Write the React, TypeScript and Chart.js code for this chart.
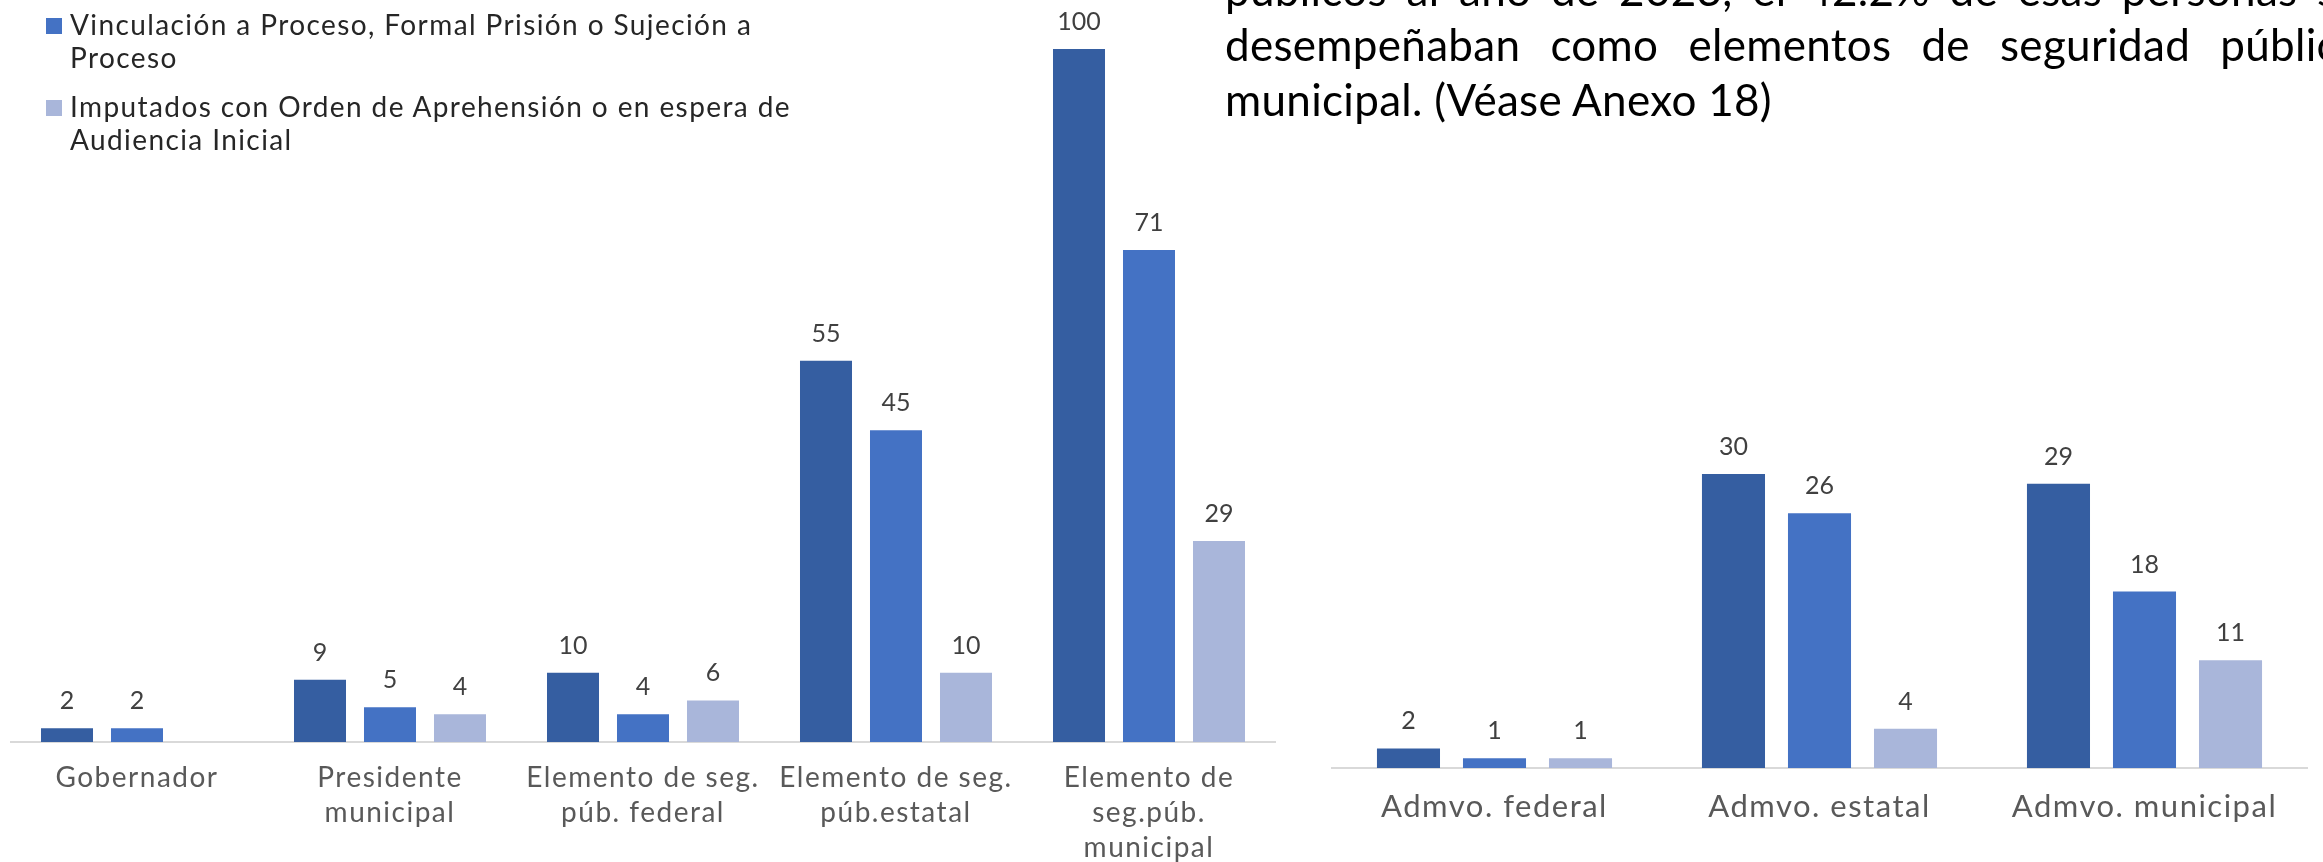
import React, { useEffect, useRef } from "react";
import { Chart, registerables } from "chart.js";

Chart.register(...registerables);

// ---------- DATA ----------
const leftCategories: (string | string[])[] = [
  "Gobernador",
  ["Presidente", "municipal"],
  ["Elemento de seg.", "púb. federal"],
  ["Elemento de seg.", "púb.estatal"],
  ["Elemento de", "seg.púb.", "municipal"],
];
const leftDark: (number | null)[] = [2, 9, 10, 55, 100];
const leftMedium: (number | null)[] = [2, 5, 4, 45, 71];
const leftLight: (number | null)[] = [null, 4, 6, 10, 29];

const rightCategories: string[] = ["Admvo. federal", "Admvo. estatal", "Admvo. municipal"];
const rightDark: number[] = [2, 30, 29];
const rightMedium: number[] = [1, 26, 18];
const rightLight: number[] = [1, 4, 11];

const legendItems: { lines: string[]; color: string }[] = [
  { lines: ["Vinculación a Proceso, Formal Prisión o Sujeción a", "Proceso"], color: "#4472C4" },
  { lines: ["Imputados con Orden de Aprehensión o en espera de", "Audiencia Inicial"], color: "#A9B6DA" },
];

const paragraphLines: string[] = [
  "públicos al año de 2023, el 42.2% de esas personas se",
  "desempeñaban como elementos de seguridad pública",
  "municipal. (Véase Anexo 18)",
];

const COLORS = { dark: "#355EA1", medium: "#4472C4", light: "#A9B6DA" };
const FONT = "Lato, 'Open Sans', sans-serif";

const spacingPlugin = {
  id: "labelSpacing",
  beforeDraw(chart: any) {
    (chart.ctx as any).letterSpacing = "1.5px";
  },
};

const valueLabelPlugin = {
  id: "valueLabels",
  afterDatasetsDraw(chart: any) {
    const ctx = chart.ctx;
    ctx.save();
    (ctx as any).letterSpacing = "0px";
    ctx.font = `25px ${FONT}`;
    ctx.fillStyle = "#404040";
    ctx.textAlign = "center";
    ctx.textBaseline = "alphabetic";
    chart.data.datasets.forEach((ds: any, i: number) => {
      const meta = chart.getDatasetMeta(i);
      meta.data.forEach((el: any, j: number) => {
        const v = ds.data[j];
        if (v === null || v === undefined) return;
        ctx.fillText(String(v), el.x, el.y - 19);
      });
    });
    ctx.restore();
  },
};

function makeConfig(
  labels: any[],
  dark: any[],
  medium: any[],
  light: any[],
  max: number,
  padding: any,
  axisHeight: number,
  labelSize: number,
  tickPadding: number,
  catPct: number,
  barPct: number
): any {
  const mk = (label: string, data: any[], color: string) => ({
    label,
    data,
    backgroundColor: color,
    borderWidth: 0,
    categoryPercentage: catPct,
    barPercentage: barPct,
  });
  return {
    type: "bar",
    data: {
      labels,
      datasets: [
        mk("Serie 1", dark, COLORS.dark),
        mk(legendItems[0].lines.join(" "), medium, COLORS.medium),
        mk(legendItems[1].lines.join(" "), light, COLORS.light),
      ],
    },
    options: {
      responsive: false,
      animation: false,
      layout: { padding },
      plugins: { legend: { display: false }, tooltip: { enabled: false } },
      scales: {
        x: {
          grid: { display: false, drawTicks: false },
          border: { display: true, color: "#D9D9D9", width: 2 },
          ticks: {
            color: "#595959",
            font: { family: FONT, size: labelSize, lineHeight: 1.25 },
            padding: tickPadding,
            maxRotation: 0,
            autoSkip: false,
          },
          afterFit: (scale: any) => {
            scale.height = axisHeight;
          },
        },
        y: {
          display: false,
          min: 0,
          max,
          grid: { display: false },
        },
      },
    },
    plugins: [spacingPlugin, valueLabelPlugin],
  };
}

function BarCanvas(props: { config: any; width: number; height: number; left: number }) {
  const ref = useRef<HTMLCanvasElement | null>(null);
  useEffect(() => {
    if (!ref.current) return;
    const chart = new Chart(ref.current, props.config);
    return () => chart.destroy();
  }, []);
  return (
    <canvas
      ref={ref}
      width={props.width}
      height={props.height}
      style={{ position: "absolute", left: props.left, top: 0, width: props.width, height: props.height }}
    />
  );
}

export default function App() {
  const leftConfig = makeConfig(
    leftCategories,
    leftDark,
    leftMedium,
    leftLight,
    100,
    { left: 10.5, right: 14.5, top: 49, bottom: 0 },
    120,
    28,
    18,
    0.83,
    0.743
  );
  const rightConfig = makeConfig(
    rightCategories,
    rightDark,
    rightMedium,
    rightLight,
    30,
    { left: 42, right: 16, top: 474, bottom: 0 },
    94,
    31,
    20,
    0.794,
    0.733
  );

  return (
    <div
      style={{
        position: "fixed",
        left: 0,
        top: 0,
        width: 2323,
        height: 862,
        overflow: "hidden",
        background: "#ffffff",
      }}
    >
      <BarCanvas config={leftConfig} width={1290} height={862} left={0} />
      <BarCanvas config={rightConfig} width={1033} height={862} left={1290} />

      {/* Legend */}
      {legendItems.map((item, i) => (
        <div key={i} style={{ position: "absolute", left: 0, top: i === 0 ? 8 : 90 }}>
          <div
            style={{
              position: "absolute",
              left: 46,
              top: 10,
              width: 16,
              height: 16,
              background: item.color,
            }}
          />
          <div
            style={{
              position: "absolute",
              left: 70,
              top: 0,
              whiteSpace: "nowrap",
              fontFamily: FONT,
              fontSize: 28,
              letterSpacing: "1.4px",
              lineHeight: "33px",
              color: "#262626",
            }}
          >
            {item.lines.map((l, k) => (
              <div key={k}>{l}</div>
            ))}
          </div>
        </div>
      ))}

      {/* Paragraph text (cropped) */}
      <div
        style={{
          position: "absolute",
          left: 1225,
          top: -38,
          width: 1135,
          fontFamily: FONT,
          fontSize: 44,
          letterSpacing: "0.3px",
          lineHeight: "55px",
          color: "#000000",
        }}
      >
        {paragraphLines.map((l, k) => (
          <div
            key={k}
            style={{
              whiteSpace: "nowrap",
              textAlign: k < paragraphLines.length - 1 ? "justify" : "left",
              textAlignLast: k < paragraphLines.length - 1 ? "justify" : "left",
              width: 1135,
            } as any}
          >
            {l}
          </div>
        ))}
      </div>
    </div>
  );
}
